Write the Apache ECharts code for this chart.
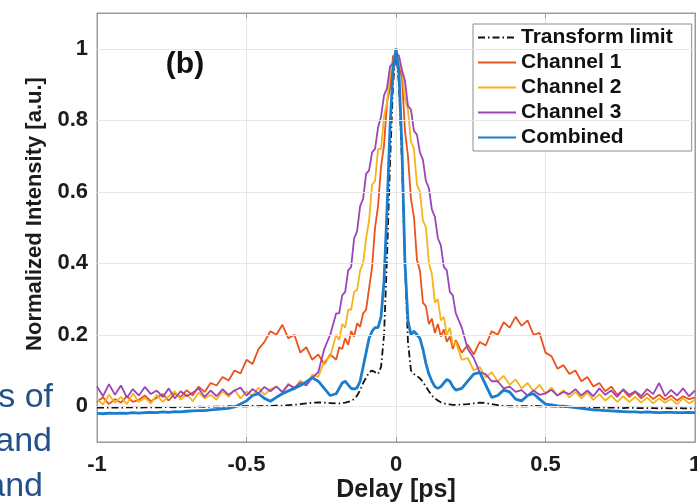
<!DOCTYPE html>
<html>
<head>
<meta charset="utf-8">
<script src="https://cdn.jsdelivr.net/npm/echarts@6/dist/echarts.min.js"></script>
<style>
  html, body { margin: 0; padding: 0; background: #fff; }
  #chart { width: 697px; height: 503px; }
</style>
</head>
<body>
<div id="chart"></div>
<script>
// delay axis (ps) shared by every trace
var delay = [
  -1, -0.98, -0.96, -0.94, -0.92, -0.9, -0.88, -0.86, -0.84, -0.82,
  -0.8, -0.78, -0.76, -0.74, -0.72, -0.7, -0.68, -0.66, -0.64, -0.62,
  -0.6, -0.58, -0.56, -0.54, -0.52, -0.5, -0.48, -0.46, -0.44, -0.42,
  -0.4, -0.38, -0.36, -0.34, -0.32, -0.3, -0.28, -0.26, -0.24, -0.22,
  -0.2, -0.19, -0.18, -0.17, -0.16, -0.15, -0.14, -0.13, -0.12, -0.11,
  -0.1, -0.09, -0.08, -0.07, -0.06, -0.05, -0.04, -0.03, -0.02, -0.01,
  0,
  0.01, 0.02, 0.03, 0.04, 0.05, 0.06, 0.07, 0.08, 0.09, 0.1,
  0.11, 0.12, 0.13, 0.14, 0.15, 0.16, 0.17, 0.18, 0.19, 0.2,
  0.22, 0.24, 0.26, 0.28, 0.3, 0.32, 0.34, 0.36, 0.38, 0.4,
  0.42, 0.44, 0.46, 0.48, 0.5, 0.52, 0.54, 0.56, 0.58, 0.6,
  0.62, 0.64, 0.66, 0.68, 0.7, 0.72, 0.74, 0.76, 0.78, 0.8,
  0.82, 0.84, 0.86, 0.88, 0.9, 0.92, 0.94, 0.96, 0.98, 1
];

var transformLimit = [
  -0.004, -0.004, -0.004, -0.003, -0.004, -0.003, -0.003, -0.004, -0.003, -0.003,
  -0.003, -0.003, -0.002, -0.003, -0.002, -0.002, -0.002, -0.001, -0.002, -0.001,
  -0.001, -0.001, 0, -0.001, 0, 0, 0.001, 0, 0.001, 0.001,
  0.002, 0.002, 0.003, 0.004, 0.006, 0.008, 0.01, 0.011, 0.01, 0.009,
  0.008, 0.008, 0.009, 0.01, 0.012, 0.015, 0.02, 0.03, 0.045, 0.065,
  0.08, 0.095, 0.1, 0.095, 0.09, 0.11, 0.2, 0.42, 0.68, 0.9,
  1,
  0.9, 0.68, 0.4, 0.18, 0.1, 0.09, 0.085, 0.078, 0.068, 0.055,
  0.042, 0.03, 0.022, 0.016, 0.011, 0.008, 0.006, 0.005, 0.004, 0.004,
  0.005, 0.006, 0.008, 0.01, 0.009, 0.006, 0.003, 0.001, 0, 0,
  0, 0, 0.001, 0, -0.001, 0, -0.001, -0.002, -0.002, -0.003,
  -0.003, -0.003, -0.004, -0.003, -0.004, -0.004, -0.004, -0.005, -0.004, -0.005,
  -0.005, -0.005, -0.005, -0.006, -0.005, -0.006, -0.005, -0.006, -0.006, -0.006
];

var channel1 = [
  0.012, 0.025, 0.006, 0.02, 0.01, 0.028, 0.012, 0.018, 0.03, 0.014,
  0.024, 0.034, 0.016, 0.036, 0.026, 0.045, 0.03, 0.055, 0.04, 0.065,
  0.058, 0.082, 0.072, 0.1, 0.092, 0.13, 0.118, 0.16, 0.18, 0.21,
  0.2, 0.228, 0.19, 0.2, 0.15, 0.165, 0.13, 0.145, 0.118, 0.145,
  0.13, 0.165, 0.16, 0.19, 0.172, 0.21, 0.195, 0.232, 0.222, 0.26,
  0.27, 0.33, 0.39, 0.5, 0.56, 0.67, 0.73, 0.85, 0.89, 0.98,
  0.98,
  0.95, 0.92, 0.77, 0.7, 0.58, 0.53, 0.41, 0.38, 0.29, 0.28,
  0.23, 0.245, 0.205, 0.23, 0.195, 0.215, 0.18, 0.195, 0.16, 0.185,
  0.15, 0.172, 0.145, 0.18, 0.17, 0.21, 0.2, 0.235, 0.22, 0.25,
  0.225, 0.24, 0.2, 0.205, 0.15, 0.14, 0.105, 0.115, 0.09, 0.1,
  0.07, 0.082, 0.055, 0.065, 0.042, 0.055, 0.032, 0.045, 0.026, 0.04,
  0.022, 0.036, 0.02, 0.032, 0.018, 0.03, 0.016, 0.028, 0.02, 0.024
];

var channel2 = [
  0.02, 0.005, 0.032, 0.01, 0.026, 0.006, 0.036, 0.012, 0.024, 0.008,
  0.032, 0.012, 0.028, 0.042, 0.018, 0.034, 0.014, 0.038, 0.022, 0.032,
  0.018, 0.042, 0.026, 0.046, 0.022, 0.042, 0.028, 0.052, 0.032, 0.048,
  0.056, 0.038, 0.064, 0.048, 0.072, 0.06, 0.088, 0.082, 0.125, 0.14,
  0.2, 0.185, 0.23, 0.22, 0.27, 0.27, 0.32, 0.325, 0.38, 0.4,
  0.47, 0.52, 0.62, 0.63, 0.72, 0.72, 0.81, 0.85, 0.93, 0.96,
  1,
  0.96, 0.94, 0.86, 0.83, 0.74, 0.72, 0.62, 0.6, 0.52, 0.5,
  0.4, 0.37, 0.29, 0.3, 0.24, 0.25, 0.2, 0.22, 0.17, 0.18,
  0.13, 0.135, 0.1, 0.11, 0.08, 0.095, 0.07, 0.085, 0.06, 0.075,
  0.05, 0.065, 0.042, 0.06, 0.035, 0.052, 0.03, 0.045, 0.025, 0.04,
  0.022, 0.038, 0.018, 0.034, 0.016, 0.03, 0.012, 0.028, 0.012, 0.026,
  0.01, 0.024, 0.008, 0.022, 0.01, 0.02, 0.006, 0.022, 0.008, 0.018
];

var channel3 = [
  0.055, 0.028, 0.062, 0.032, 0.058, 0.024, 0.048, 0.03, 0.054, 0.034,
  0.044, 0.026, 0.05, 0.022, 0.042, 0.028, 0.038, 0.05, 0.026, 0.044,
  0.028, 0.048, 0.032, 0.044, 0.052, 0.03, 0.048, 0.036, 0.054, 0.042,
  0.055, 0.04, 0.06, 0.052, 0.066, 0.058, 0.08, 0.095, 0.16, 0.2,
  0.26, 0.26, 0.31, 0.32, 0.38, 0.39, 0.47, 0.49, 0.56, 0.58,
  0.65, 0.66, 0.71, 0.72, 0.78, 0.81, 0.87, 0.89, 0.95, 0.96,
  0.99,
  0.98, 0.94, 0.91, 0.84, 0.83, 0.77, 0.76, 0.71, 0.69, 0.63,
  0.61, 0.55, 0.53, 0.47, 0.45, 0.39, 0.38, 0.32, 0.31, 0.26,
  0.22, 0.16, 0.135, 0.095, 0.09, 0.07, 0.07, 0.05, 0.055, 0.04,
  0.045, 0.03, 0.044, 0.032, 0.036, 0.046, 0.03, 0.04, 0.034, 0.048,
  0.03, 0.044, 0.028, 0.05, 0.032, 0.044, 0.026, 0.048, 0.032, 0.042,
  0.028, 0.048, 0.034, 0.065, 0.028, 0.046, 0.03, 0.05, 0.028, 0.044
];

var combined = [
  -0.02, -0.021, -0.019, -0.02, -0.019, -0.02, -0.018, -0.019, -0.018, -0.017,
  -0.018, -0.016, -0.017, -0.015, -0.016, -0.014, -0.013, -0.012, -0.012, -0.01,
  -0.009, -0.007, -0.006, -0.002, 0.006, 0.015, 0.03, 0.035, 0.022, 0.014,
  0.025, 0.035, 0.043, 0.05, 0.058, 0.068, 0.08, 0.07, 0.05, 0.03,
  0.035, 0.05, 0.065, 0.07, 0.06, 0.05, 0.048, 0.052, 0.07, 0.11,
  0.15, 0.19, 0.21, 0.22, 0.22, 0.25, 0.35, 0.55, 0.78, 0.94,
  1,
  0.93, 0.72, 0.4, 0.24, 0.2, 0.21, 0.2, 0.19, 0.16, 0.12,
  0.09, 0.07, 0.055, 0.05, 0.055, 0.065, 0.075, 0.07, 0.055, 0.045,
  0.05, 0.07, 0.09, 0.095, 0.06, 0.025, 0.03, 0.045, 0.04, 0.02,
  0.015, 0.03, 0.035, 0.02, 0.006, 0.004, 0.001, 0, -0.002, -0.004,
  -0.006, -0.008, -0.01, -0.011, -0.012, -0.013, -0.014, -0.015, -0.016, -0.016,
  -0.017, -0.016, -0.017, -0.018, -0.017, -0.017, -0.018, -0.018, -0.017, -0.018
];

var seriesNames = ['Transform limit', 'Channel 1', 'Channel 2', 'Channel 3', 'Combined'];
var xTicks = [-1, -0.5, 0, 0.5, 1];
var yTicks = [0, 0.2, 0.4, 0.6, 0.8, 1];

var FONT = "'Liberation Sans', Arial, sans-serif";
var frameColor = '#9a9a9a';

function pairs(vals) {
  return delay.map(function (d, i) { return [d, vals[i]]; });
}

function trace(name, vals, color, width, dash) {
  return {
    name: name,
    type: 'line',
    data: pairs(vals),
    symbol: 'none',
    showSymbol: false,
    z: 3,
    lineStyle: { color: color, width: width, type: dash || 'solid' },
    itemStyle: { color: color }
  };
}

function frameAxis(extra) {
  var a = {
    type: 'value',
    axisLine: { show: true, onZero: false, lineStyle: { color: frameColor } },
    axisTick: { inside: true, length: 5, lineStyle: { color: frameColor } },
    axisLabel: { show: false },
    splitLine: { show: false }
  };
  for (var k in extra) a[k] = extra[k];
  return a;
}

var option = {
  backgroundColor: '#fff',
  animation: false,
  grid: {
    left: 97, right: 2, top: 13, bottom: 61,
    outerBoundsMode: 'none',
    show: true, borderColor: frameColor, borderWidth: 1
  },
  legend: {
    data: seriesNames,
    orient: 'vertical',
    left: 473,
    top: 24,
    backgroundColor: '#fff',
    borderColor: '#8c8c8c',
    borderWidth: 1,
    padding: [3, 19, 3, 4],
    itemGap: 4,
    itemWidth: 38,
    itemHeight: 14,
    itemStyle: { opacity: 0, borderWidth: 0 },
    textStyle: { fontFamily: FONT, fontWeight: 'bold', fontSize: 21, color: '#111', lineHeight: 21 }
  },
  xAxis: [
    frameAxis({
      min: -1, max: 1, interval: 0.5,
      axisLabel: {
        margin: 12, fontFamily: FONT, fontWeight: 'bold', fontSize: 22, color: '#1c1c1c',
        formatter: function (v) { return xTicks.indexOf(v) >= 0 ? String(v) : ''; }
      },
      splitLine: { show: true, lineStyle: { color: '#e6e6e6' } }
    }),
    frameAxis({ position: 'top', min: -1, max: 1, interval: 0.5 })
  ],
  yAxis: [
    frameAxis({
      min: -0.1, max: 1.1,
      axisTick: { inside: true, length: 5, customValues: yTicks, lineStyle: { color: frameColor } },
      axisLabel: {
        margin: 9, customValues: yTicks, fontFamily: FONT, fontWeight: 'bold', fontSize: 22, color: '#1c1c1c',
        formatter: function (v) { return String(Math.round(v * 10) / 10); }
      }
    }),
    frameAxis({
      position: 'right', min: -0.1, max: 1.1,
      axisTick: { inside: true, length: 5, customValues: yTicks, lineStyle: { color: frameColor } }
    })
  ],
  series: [
    {
      // horizontal grid lines at the y tick values
      name: 'grid', type: 'line', data: [], z: 1, silent: true,
      markLine: {
        silent: true, symbol: 'none', label: { show: false },
        lineStyle: { color: '#e6e6e6', type: 'solid', width: 1 },
        data: yTicks.map(function (v) { return { yAxis: v }; })
      }
    },
    trace('Transform limit', transformLimit, '#111111', 1.8, [7, 3, 1.5, 3]),
    trace('Channel 1', channel1, '#e9531c', 1.8),
    trace('Channel 2', channel2, '#f4b41c', 1.8),
    trace('Channel 3', channel3, '#9a46b8', 1.8),
    trace('Combined', combined, '#1b7dcc', 2.8)
  ],
  graphic: [
    { type: 'text', x: 185, y: 65, style: { text: '(b)', font: 'bold 30px ' + FONT, fill: '#111', textAlign: 'center', textVerticalAlign: 'middle' } },
    { type: 'text', x: 35, y: 214, rotation: Math.PI / 2, style: { text: 'Normalized Intensity [a.u.]', font: 'bold 22px ' + FONT, fill: '#1c1c1c', textAlign: 'center', textVerticalAlign: 'middle' } },
    { type: 'text', x: 396, y: 490, style: { text: 'Delay [ps]', font: 'bold 25px ' + FONT, fill: '#1c1c1c', textAlign: 'center', textVerticalAlign: 'middle' } },
    { type: 'text', x: 53, y: 398, style: { text: 's of', font: '34px ' + FONT, fill: '#24508c', textAlign: 'right', textVerticalAlign: 'middle' } },
    { type: 'text', x: 52, y: 442, style: { text: 'and', font: '34px ' + FONT, fill: '#24508c', textAlign: 'right', textVerticalAlign: 'middle' } },
    { type: 'text', x: 43, y: 487, style: { text: 'and', font: '34px ' + FONT, fill: '#24508c', textAlign: 'right', textVerticalAlign: 'middle' } }
  ]
};

var chart = echarts.init(document.getElementById('chart'));
chart.setOption(option);
</script>
</body>
</html>
